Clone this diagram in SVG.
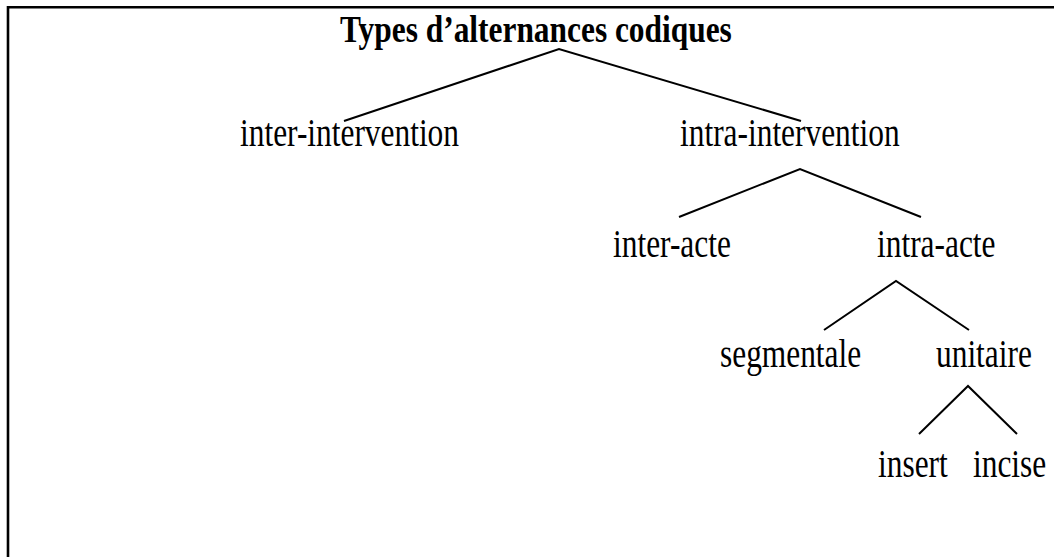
<svg xmlns="http://www.w3.org/2000/svg" width="1054" height="557" viewBox="0 0 1054 557">
<style>
.t{font-family:"Liberation Serif","Times New Roman",serif;font-size:31.4px;fill:#000}
.b{font-weight:bold}
.e{stroke:#000;stroke-width:2;fill:none;stroke-linecap:butt}
.frame{stroke:#000;stroke-width:2.6;fill:none}
</style>
<rect width="1054" height="557" fill="#fff"/>
<path class="frame" d="M8 560 V7.3 H1060"/>
<g id="connectors">
<polyline class="e" points="344,121 559,49 801,121"/>
<polyline class="e" points="679,217 800,169 921,217"/>
<polyline class="e" points="824,330 896,281 969,330"/>
<polyline class="e" points="919,434 968,386 1017,434"/>
</g>
<g id="root"><text class="t b" transform="translate(340,42) scale(1,1.2)">Types d’alternances codiques</text></g>
<g id="inter-intervention"><text class="t" transform="translate(240,146) scale(1,1.28)">inter-intervention</text></g>
<g id="intra-intervention"><text class="t" transform="translate(680,146) scale(1,1.28)">intra-intervention</text></g>
<g id="inter-acte"><text class="t" transform="translate(613,257) scale(1,1.28)">inter-acte</text></g>
<g id="intra-acte"><text class="t" transform="translate(877,257) scale(1,1.28)">intra-acte</text></g>
<g id="segmentale"><text class="t" transform="translate(720,367) scale(1,1.28)">segmentale</text></g>
<g id="unitaire"><text class="t" transform="translate(936,367) scale(1,1.28)">unitaire</text></g>
<g id="insert"><text class="t" transform="translate(878,477) scale(1,1.28)">insert</text></g>
<g id="incise"><text class="t" transform="translate(973,477) scale(1,1.28)">incise</text></g>
</svg>
